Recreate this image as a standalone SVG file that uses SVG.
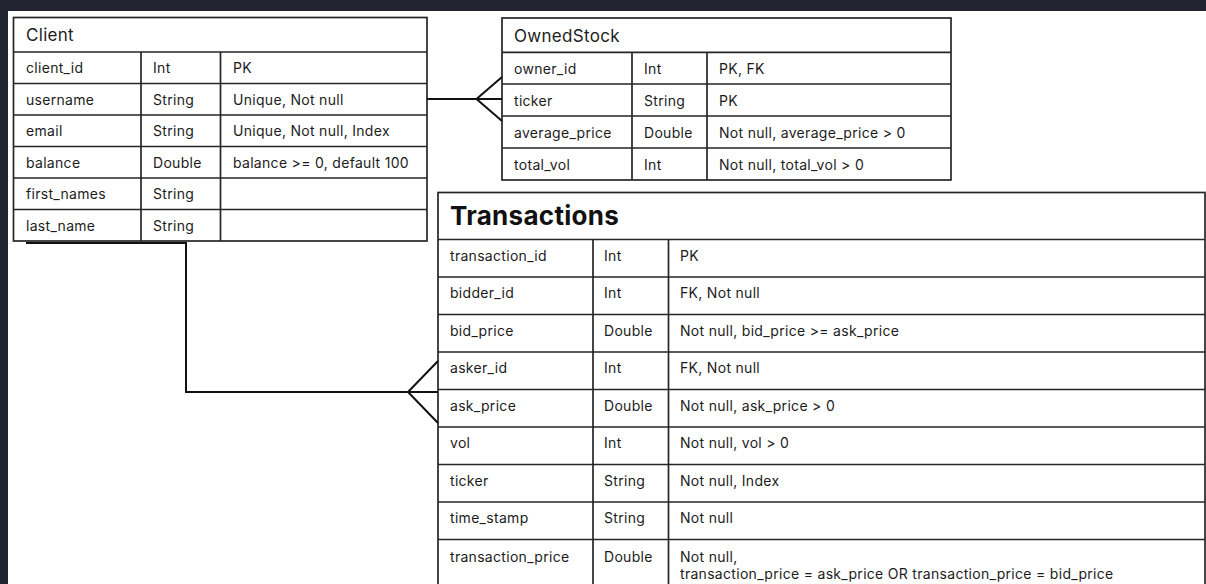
<svg xmlns="http://www.w3.org/2000/svg" width="1206" height="584" viewBox="0 0 1206 584">
<style>
.bg{fill:#212331}
.tbl{fill:#ffffff;stroke:#262626;stroke-width:1.7}
.ln{stroke:#262626;stroke-width:1.7;fill:none}
.t{font-family:Inter,"Liberation Sans",sans-serif;font-size:14px;letter-spacing:0.3px;fill:#1c1c1c}
.h{font-family:Inter,"Liberation Sans",sans-serif;font-size:17px;letter-spacing:0.3px;fill:#1c1c1c}
.hb{font-family:Inter,"Liberation Sans",sans-serif;font-size:26px;letter-spacing:0.3px;font-weight:bold;fill:#111}
.con{stroke:#111;stroke-width:2;fill:none}
</style>
<rect class="bg" x="0" y="0" width="1206" height="584"/>
<rect x="8" y="11" width="1198" height="573" fill="#ffffff"/>

<g id="client">
<rect class="tbl" x="13.5" y="17.5" width="413.5" height="223.5"/>
<path class="ln" d="M13.5 52H427M13.5 83.5H427M13.5 115H427M13.5 146.5H427M13.5 178H427M13.5 209.5H427M141 52V241M220.5 52V241"/>
<text class="h" x="26" y="40.5">Client</text>
<text class="t" x="26" y="73">client_id</text><text class="t" x="153" y="73">Int</text><text class="t" x="233" y="73">PK</text>
<text class="t" x="26" y="104.5">username</text><text class="t" x="153" y="104.5">String</text><text class="t" x="233" y="104.5">Unique, Not null</text>
<text class="t" x="26" y="136">email</text><text class="t" x="153" y="136">String</text><text class="t" x="233" y="136">Unique, Not null, Index</text>
<text class="t" x="26" y="167.5">balance</text><text class="t" x="153" y="167.5">Double</text><text class="t" x="233" y="167.5">balance &gt;= 0, default 100</text>
<text class="t" x="26" y="199">first_names</text><text class="t" x="153" y="199">String</text>
<text class="t" x="26" y="230.5">last_name</text><text class="t" x="153" y="230.5">String</text>
</g>

<g id="ownedstock">
<rect class="tbl" x="502" y="18" width="449" height="162"/>
<path class="ln" d="M502 52.3H951M502 84H951M502 116H951M502 148H951M632 52.3V180M707 52.3V180"/>
<text class="h" x="514" y="41.5">OwnedStock</text>
<text class="t" x="514" y="74">owner_id</text><text class="t" x="644" y="74">Int</text><text class="t" x="719" y="74">PK, FK</text>
<text class="t" x="514" y="105.5">ticker</text><text class="t" x="644" y="105.5">String</text><text class="t" x="719" y="105.5">PK</text>
<text class="t" x="514" y="137.5">average_price</text><text class="t" x="644" y="137.5">Double</text><text class="t" x="719" y="137.5">Not null, average_price &gt; 0</text>
<text class="t" x="514" y="169.5">total_vol</text><text class="t" x="644" y="169.5">Int</text><text class="t" x="719" y="169.5">Not null, total_vol &gt; 0</text>
</g>

<g id="transactions">
<rect class="tbl" x="438" y="192.5" width="767" height="420"/>
<path class="ln" d="M438 239.5H1205M438 277H1205M438 314.5H1205M438 352H1205M438 389.5H1205M438 427H1205M438 464.5H1205M438 502H1205M438 539.5H1205M593 239.5V584M668.5 239.5V584"/>
<text class="hb" x="450" y="224.5">Transactions</text>
<text class="t" x="450" y="260.5">transaction_id</text><text class="t" x="604" y="260.5">Int</text><text class="t" x="680" y="260.5">PK</text>
<text class="t" x="450" y="298">bidder_id</text><text class="t" x="604" y="298">Int</text><text class="t" x="680" y="298">FK, Not null</text>
<text class="t" x="450" y="335.5">bid_price</text><text class="t" x="604" y="335.5">Double</text><text class="t" x="680" y="335.5">Not null, bid_price &gt;= ask_price</text>
<text class="t" x="450" y="373">asker_id</text><text class="t" x="604" y="373">Int</text><text class="t" x="680" y="373">FK, Not null</text>
<text class="t" x="450" y="410.5">ask_price</text><text class="t" x="604" y="410.5">Double</text><text class="t" x="680" y="410.5">Not null, ask_price &gt; 0</text>
<text class="t" x="450" y="448">vol</text><text class="t" x="604" y="448">Int</text><text class="t" x="680" y="448">Not null, vol &gt; 0</text>
<text class="t" x="450" y="485.5">ticker</text><text class="t" x="604" y="485.5">String</text><text class="t" x="680" y="485.5">Not null, Index</text>
<text class="t" x="450" y="523">time_stamp</text><text class="t" x="604" y="523">String</text><text class="t" x="680" y="523">Not null</text>
<text class="t" x="450" y="561.5">transaction_price</text><text class="t" x="604" y="561.5">Double</text><text class="t" x="680" y="561.5">Not null,</text>
<text class="t" x="680" y="578.5">transaction_price = ask_price OR transaction_price = bid_price</text>
</g>

<g id="connectors">
<path class="con" d="M427 99H502M502 77L476.5 99L502 121"/>
<path class="con" d="M26 243H186V392H438M438 361L408 392L438 423"/>
</g>
</svg>
